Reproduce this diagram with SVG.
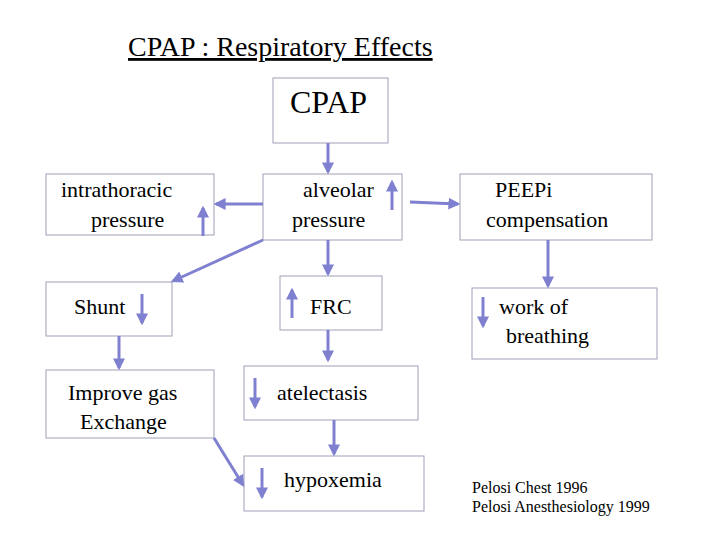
<svg xmlns="http://www.w3.org/2000/svg" width="720" height="540" viewBox="0 0 720 540">
<style>
.b{fill:#fff;stroke:#a0a0b8;stroke-width:1}
.c line{stroke:#8080d0;stroke-width:3}
.ind{stroke:#8080d0;stroke-width:3}
</style>
<defs>
<marker id="a" viewBox="0 0 10 10" refX="8" refY="5" markerWidth="4" markerHeight="4" orient="auto"><path d="M0 0L10 5L0 10z" fill="#8080d0"/></marker>
</defs>
<rect width="720" height="540" fill="#fff"/>
<g font-family="'Liberation Serif', 'DejaVu Serif', serif" font-size="22" fill="#000">
<text x="128" y="56" font-size="28" text-decoration="underline">CPAP : Respiratory Effects</text>
<g id="cpap"><rect class="b" x="273" y="78" width="115" height="65"/><text x="290" y="113" font-size="32">CPAP</text></g>
<g id="intra"><rect class="b" x="46" y="174" width="168" height="61"/><text x="61" y="197">intrathoracic</text><text x="91" y="227">pressure</text><line class="ind" x1="203" y1="236" x2="203" y2="208" marker-end="url(#a)"/></g>
<g id="alv"><rect class="b" x="263" y="174" width="139" height="66"/><text x="303" y="197">alveolar</text><text x="292" y="227">pressure</text><line class="ind" x1="392" y1="210" x2="392" y2="182" marker-end="url(#a)"/></g>
<g id="peep"><rect class="b" x="460" y="174" width="192" height="66"/><text x="495" y="197">PEEPi</text><text x="486" y="227">compensation</text></g>
<g id="shunt"><rect class="b" x="46" y="282" width="126" height="54"/><text x="74" y="314">Shunt</text><line class="ind" x1="142" y1="294" x2="142" y2="323" marker-end="url(#a)"/></g>
<g id="frc"><rect class="b" x="280" y="276" width="102" height="54"/><text x="310" y="314">FRC</text><line class="ind" x1="292" y1="318" x2="292" y2="290" marker-end="url(#a)"/></g>
<g id="wob"><rect class="b" x="472" y="288" width="185" height="71"/><text x="499" y="314">work of</text><text x="506" y="343">breathing</text><line class="ind" x1="483" y1="297" x2="483" y2="326" marker-end="url(#a)"/></g>
<g id="gas"><rect class="b" x="46" y="370" width="168" height="68"/><text x="68" y="400">Improve gas</text><text x="80" y="429">Exchange</text></g>
<g id="atel"><rect class="b" x="244" y="366" width="174" height="54"/><text x="277" y="400">atelectasis</text><line class="ind" x1="255" y1="378" x2="255" y2="407" marker-end="url(#a)"/></g>
<g id="hypo"><rect class="b" x="244" y="456" width="180" height="55"/><text x="284" y="487">hypoxemia</text><line class="ind" x1="262" y1="468" x2="262" y2="497" marker-end="url(#a)"/></g>
<text x="472" y="493" font-size="16">Pelosi Chest 1996</text>
<text x="472" y="512" font-size="16">Pelosi Anesthesiology 1999</text>
</g>
<g class="c">
<line x1="328" y1="143" x2="328" y2="172" marker-end="url(#a)"/>
<line x1="263" y1="204" x2="216" y2="204" marker-end="url(#a)"/>
<line x1="410" y1="202" x2="458" y2="204" marker-end="url(#a)"/>
<line x1="263" y1="240" x2="173" y2="281" marker-end="url(#a)"/>
<line x1="328" y1="240" x2="328" y2="274" marker-end="url(#a)"/>
<line x1="548" y1="240" x2="548" y2="286" marker-end="url(#a)"/>
<line x1="119" y1="336" x2="119" y2="368" marker-end="url(#a)"/>
<line x1="328" y1="330" x2="328" y2="360" marker-end="url(#a)"/>
<line x1="334" y1="420" x2="334" y2="454" marker-end="url(#a)"/>
<line x1="214" y1="438" x2="243" y2="485" marker-end="url(#a)"/>
</g>
</svg>
